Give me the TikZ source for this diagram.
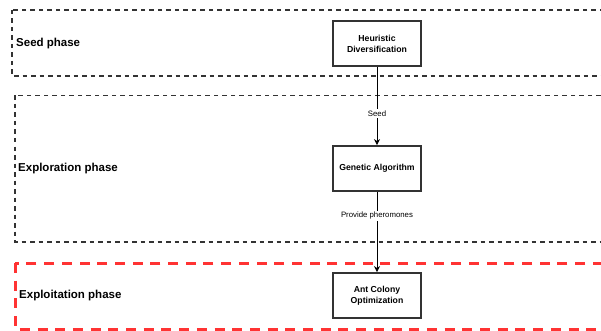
\documentclass[tikz,border=0pt]{standalone}
\usepackage{fontspec}
\setmainfont{Liberation Sans}
\usetikzlibrary{arrows.meta}
\definecolor{framegray}{HTML}{333333}
\definecolor{phasered}{HTML}{FF3333}
\tikzset{
  phasebox/.style={draw=framegray, line width=1.3pt, dash pattern=on 4.5pt off 4pt},
  redphase/.style={draw=phasered, line width=3pt, dash pattern=on 10pt off 7.7pt},
  phaselabel/.style={anchor=west, inner sep=0pt, font=\fontsize{11.5}{13}\selectfont\bfseries},
  algobox/.style={draw=framegray, line width=1.8pt, fill=white, minimum width=88pt,
    minimum height=45pt, align=center, inner sep=1pt,
    font=\fontsize{8.7}{11}\selectfont\bfseries},
  flow/.style={draw=black, line width=0.8pt, -{Stealth[length=6pt,width=6pt]}},
  flowlabel/.style={fill=white, inner sep=1.5pt, font=\fontsize{7.8}{9}\selectfont}
}
\begin{document}
\begin{tikzpicture}[x=1pt, y=-1pt]
  \clip (0,0) rectangle (601,331);
  \fill[white] (0,0) rectangle (601,331);

  % phase frames, open towards the right edge
  \draw[phasebox] (12,10) rectangle (650,76);
  \draw[phasebox] (15,95.5) rectangle (650,242);
  \draw[redphase] (15,263) rectangle (650,329);

  % phase titles
  \node[phaselabel] (seedlbl) at (16,43.5) {Seed phase};
  \node[phaselabel] (explbl) at (18,169) {Exploration phase};
  \node[phaselabel] (exploitlbl) at (19,296) {Exploitation phase};

  % algorithm stages
  \node[algobox] (hd) at (377,43.5) {Heuristic\\Diversification};
  \node[algobox] (ga) at (377,168.5) {Genetic Algorithm};
  \node[algobox] (aco) at (377,295.5) {Ant Colony\\Optimization};

  % data flow between stages
  \draw[flow] (hd) -- node[flowlabel, pos=0.6] {Seed} (ga);
  \draw[flow] (ga) -- node[flowlabel, pos=0.3] {Provide pheromones} (aco);
\end{tikzpicture}
\end{document}
